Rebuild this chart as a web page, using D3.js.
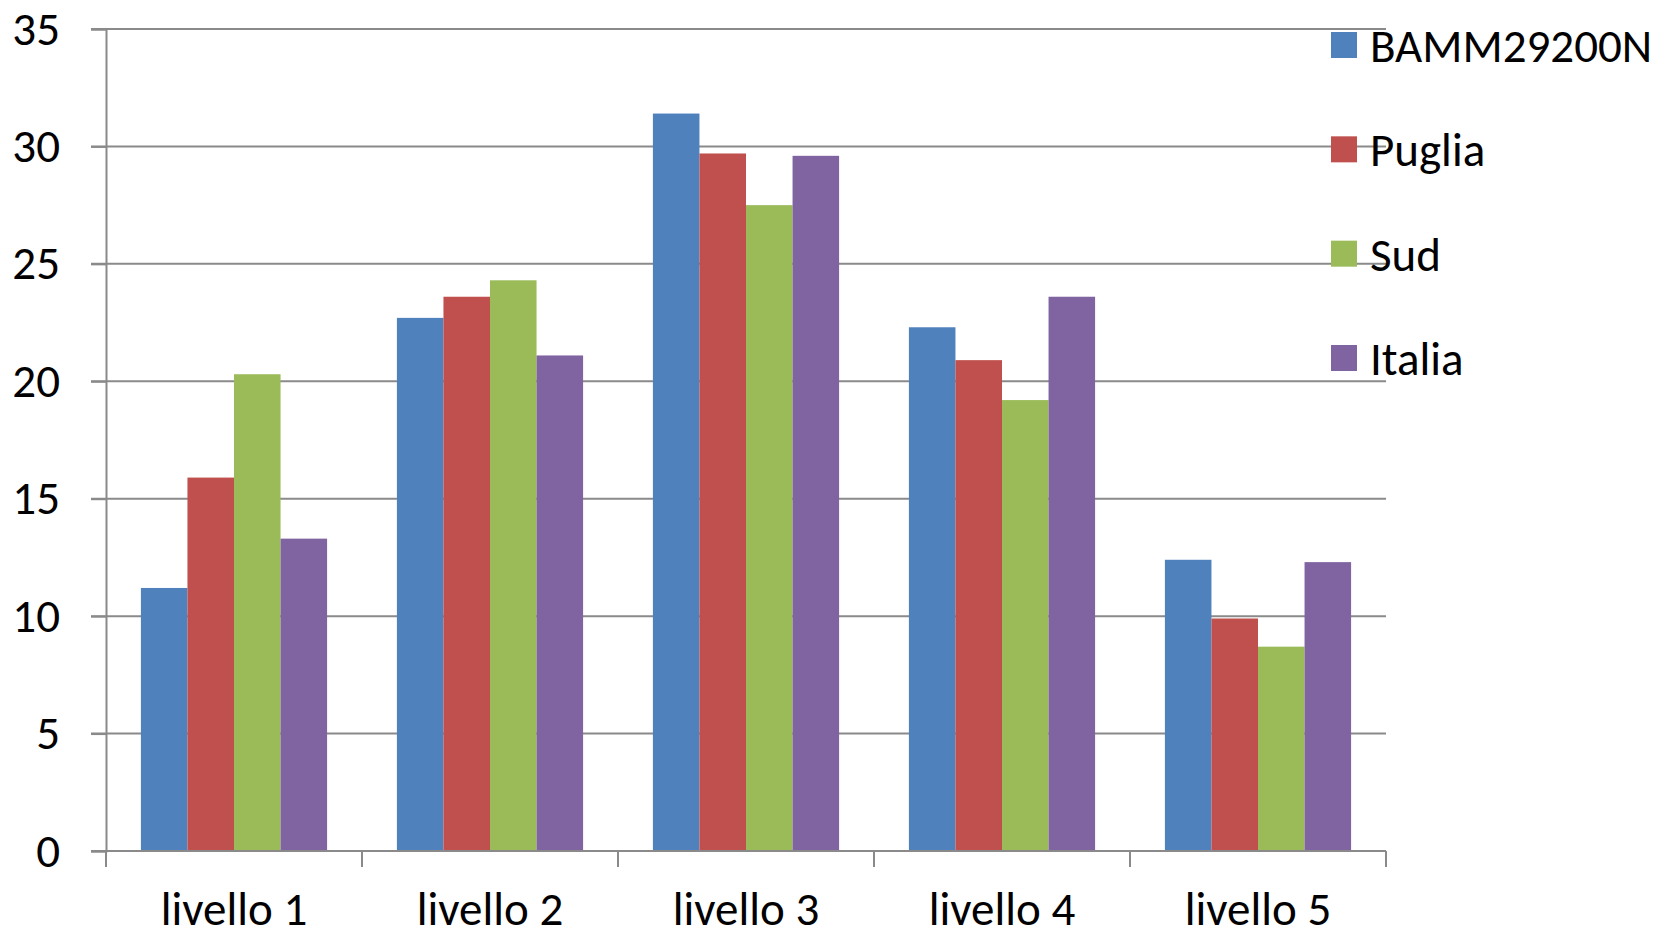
<!DOCTYPE html>
<html><head><meta charset="utf-8">
<script src="https://cdn.jsdelivr.net/npm/d3@7"></script>
<style>
html,body{margin:0;padding:0;background:#fff;overflow:hidden;}
svg{display:block;}
text{font-family:Carlito,Lato,"Open Sans",sans-serif;fill:#000;}
</style></head>
<body>
<svg id="chart" width="1660" height="930"></svg>
<script>
const categories = ["livello 1","livello 2","livello 3","livello 4","livello 5"];
const seriesNames = ["BAMM29200N","Puglia","Sud","Italia"];
const seriesColors = ["#4F81BD","#C0504D","#9BBB59","#8064A2"];
const BAMM29200N = [11.2, 22.7, 31.4, 22.3, 12.4];
const Puglia     = [15.9, 23.6, 29.7, 20.9, 9.9];
const Sud        = [20.3, 24.3, 27.5, 19.2, 8.7];
const Italia     = [13.3, 21.1, 29.6, 23.6, 12.3];
const yTicks = [0,5,10,15,20,25,30,35];

(function(){
const seriesValues = [BAMM29200N, Puglia, Sud, Italia];
const svg = d3.select("#chart");
const mLeft = 106, mRight = 1386, mTop = 29, mBottom = 851;
const gridColor = "#8a8a8a";
const fs = 47;

const y = d3.scaleLinear().domain([0,35]).range([mBottom, mTop]);
const gapFrac = 0.2727;
const x0 = d3.scaleBand().domain(categories).range([mLeft, mRight])
  .paddingInner(gapFrac).paddingOuter(gapFrac/2);
const x1 = d3.scaleBand().domain(seriesNames).range([0, x0.bandwidth()]);

// gridlines
svg.append("g").selectAll("line").data(yTicks.filter(d=>d>0)).join("line")
  .attr("x1", mLeft-15).attr("x2", mRight)
  .attr("y1", d=>y(d)).attr("y2", d=>y(d))
  .attr("stroke", gridColor).attr("stroke-width", 2);

// y axis
const yAxis = d3.axisLeft(y).tickValues(yTicks).tickSize(15).tickPadding(31).tickFormat(d3.format("d"));
const gy = svg.append("g").attr("transform", `translate(${mLeft},0)`).call(yAxis);
gy.select(".domain").attr("stroke", gridColor).attr("stroke-width", 2);
gy.selectAll(".tick line").attr("stroke", gridColor).attr("stroke-width", 2);
gy.selectAll(".tick text").attr("font-size", fs).attr("fill","#000");

// bars
const groups = svg.append("g").selectAll("g").data(categories).join("g")
  .attr("transform", d=>`translate(${x0(d)},0)`);
groups.selectAll("rect").data((c,i)=>seriesNames.map((s,j)=>({s, v: seriesValues[j][i], j})))
  .join("rect")
  .attr("x", d=>x1(d.s)).attr("width", x1.bandwidth())
  .attr("y", d=>y(d.v)).attr("height", d=>y(0)-y(d.v))
  .attr("fill", d=>seriesColors[d.j]);

// x axis
const step = x0.step();
const boundaries = categories.map(c=>x0(c) - step*gapFrac/2).concat([mRight]);
const gx = svg.append("g");
gx.append("line").attr("x1", mLeft-15).attr("x2", mRight).attr("y1", mBottom).attr("y2", mBottom)
  .attr("stroke", gridColor).attr("stroke-width", 2);
gx.selectAll("line.tk").data(boundaries).join("line").attr("class","tk")
  .attr("x1", d=>d).attr("x2", d=>d).attr("y1", mBottom).attr("y2", mBottom+16)
  .attr("stroke", gridColor).attr("stroke-width", 2);
gx.selectAll("text").data(categories).join("text")
  .attr("x", d=>x0(d)+x0.bandwidth()/2).attr("y", 925)
  .attr("text-anchor","middle").attr("font-size", fs).text(d=>d);

// legend
const legend = svg.append("g");
const ly = d3.scalePoint().domain(seriesNames).range([45, 358]);
legend.selectAll("rect").data(seriesNames).join("rect")
  .attr("x", 1331).attr("y", d=>ly(d)-13).attr("width", 26).attr("height", 26)
  .attr("fill", (d,i)=>seriesColors[i]);
legend.selectAll("text").data(seriesNames).join("text")
  .attr("x", 1370).attr("y", d=>ly(d)).attr("dy","0.36em")
  .attr("font-size", fs).text(d=>d);
})();
</script>
</body></html>
